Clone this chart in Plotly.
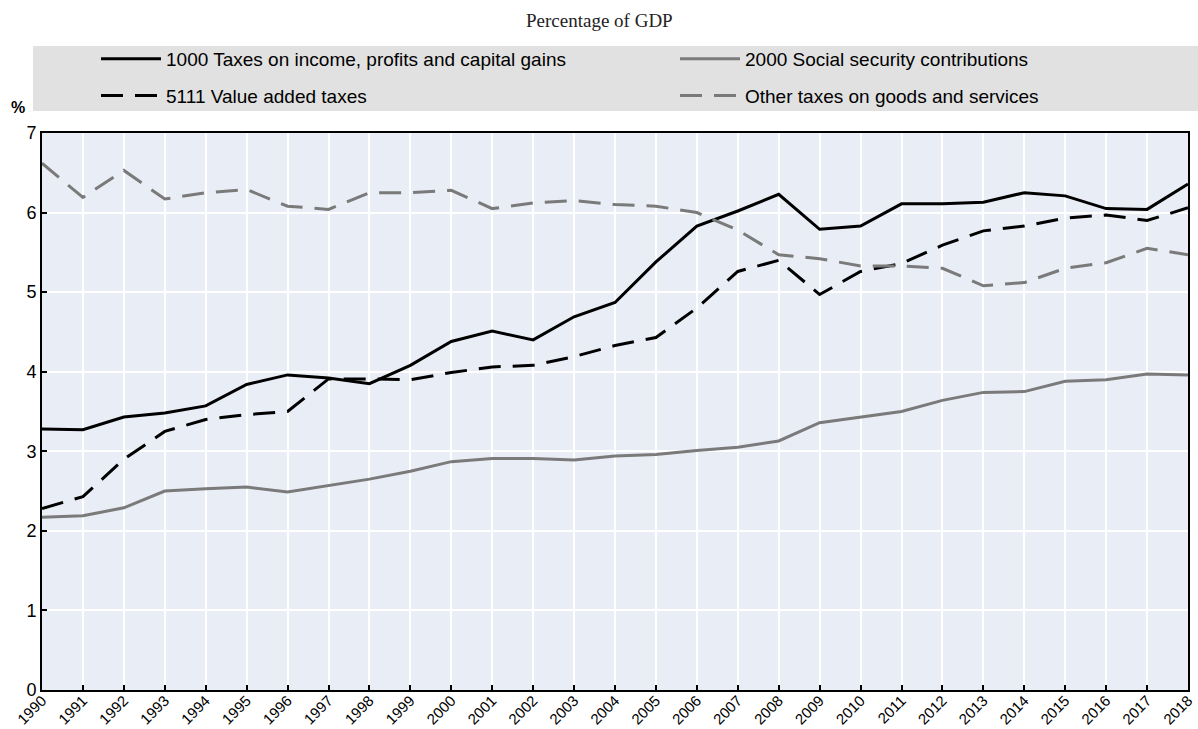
import plotly.graph_objects as go

years = list(range(1990, 2019))

income_taxes = [3.28, 3.27, 3.43, 3.48, 3.57, 3.84, 3.96, 3.92, 3.85, 4.08,
                4.38, 4.51, 4.40, 4.69, 4.87, 5.38, 5.83, 6.02, 6.23, 5.79,
                5.83, 6.11, 6.11, 6.13, 6.25, 6.21, 6.05, 6.04, 6.36]
social_security = [2.17, 2.19, 2.29, 2.50, 2.53, 2.55, 2.49, 2.57, 2.65, 2.75,
                   2.87, 2.91, 2.91, 2.89, 2.94, 2.96, 3.01, 3.05, 3.13, 3.36,
                   3.43, 3.50, 3.64, 3.74, 3.75, 3.88, 3.90, 3.97, 3.96]
vat = [2.28, 2.43, 2.90, 3.25, 3.40, 3.46, 3.50, 3.91, 3.91, 3.90,
       3.99, 4.06, 4.08, 4.19, 4.33, 4.43, 4.80, 5.26, 5.40, 4.97,
       5.26, 5.36, 5.59, 5.77, 5.83, 5.93, 5.97, 5.90, 6.06]
other_goods = [6.62, 6.19, 6.53, 6.17, 6.25, 6.29, 6.08, 6.04, 6.25, 6.25,
               6.28, 6.05, 6.12, 6.15, 6.10, 6.08, 6.00, 5.78, 5.47, 5.42,
               5.33, 5.33, 5.30, 5.08, 5.12, 5.30, 5.37, 5.55, 5.47]

names = ["1000 Taxes on income, profits and capital gains",
         "2000 Social security contributions",
         "5111 Value added taxes",
         "Other taxes on goods and services"]

FONT = "Liberation Sans Narrow, Arial Narrow, Liberation Sans, Arial, sans-serif"
BLACK = "#000000"
GREY = "#7a7a7a"
DASH = "22px,12px"

W, H = 1198, 729
ML, MR, MT, MB = 42, 10, 133, 39
PW = W - ML - MR
PH = H - MT - MB

def px_x(p):
    return (p - ML) / PW

def px_y(p):
    return (H - MB - p) / PH

fig = go.Figure()
fig.add_trace(go.Scatter(x=years, y=income_taxes, name=names[0], mode="lines",
                         line=dict(color=BLACK, width=3), legend="legend", legendgroup="a"))
fig.add_trace(go.Scatter(x=years, y=vat, name=names[2], mode="lines",
                         line=dict(color=BLACK, width=3, dash=DASH), legend="legend", legendgroup="b"))
fig.add_trace(go.Scatter(x=years, y=social_security, name=names[1], mode="lines",
                         line=dict(color=GREY, width=3), legend="legend2", legendgroup="c"))
fig.add_trace(go.Scatter(x=years, y=other_goods, name=names[3], mode="lines",
                         line=dict(color=GREY, width=3, dash=DASH), legend="legend2", legendgroup="d"))

legend_common = dict(orientation="v", yanchor="top", xanchor="left",
                     bgcolor="rgba(0,0,0,0)", font=dict(family=FONT, size=19, color="#000"),
                     itemwidth=60, tracegroupgap=9, traceorder="grouped")

fig.update_layout(
    width=W, height=H,
    margin=dict(l=ML, r=MR, t=MT, b=MB, autoexpand=False),
    paper_bgcolor="white",
    plot_bgcolor="#e9edf6",
    showlegend=True,
    legend=dict(x=px_x(96), y=px_y(40), **legend_common),
    legend2=dict(x=px_x(675), y=px_y(40), **legend_common),
    font=dict(family=FONT, size=17, color="#000"),
    xaxis=dict(range=[1990, 2018], tickmode="array", tickvals=years,
               ticktext=[str(y) for y in years], tickangle=-45,
               showgrid=True, gridcolor="white", gridwidth=2,
               showline=True, linecolor="black", linewidth=2, mirror=True,
               ticks="inside", ticklen=5, tickcolor="black", tickwidth=2,
               ticklabelstandoff=-6,
               tickfont=dict(family=FONT, size=15), automargin=False, zeroline=False),
    yaxis=dict(range=[0, 7], tickmode="array", tickvals=[0, 1, 2, 3, 4, 5, 6, 7],
               showgrid=True, gridcolor="white", gridwidth=2,
               showline=True, linecolor="black", linewidth=2, mirror=True,
               ticks="inside", ticklen=5, tickcolor="black", tickwidth=2,
               tickfont=dict(family=FONT, size=18), automargin=False, zeroline=False),
    shapes=[dict(type="rect", xref="paper", yref="paper",
                 x0=px_x(33), x1=px_x(1198), y0=px_y(111), y1=px_y(46),
                 fillcolor="#e1e1e1", line=dict(width=0), layer="below")],
    annotations=[
        dict(text="Percentage of GDP", xref="paper", yref="paper",
             x=px_x(599), y=px_y(21), xanchor="center", yanchor="middle",
             showarrow=False, font=dict(family="Liberation Serif, DejaVu Serif, serif", size=19, color="#222")),
        dict(text="<b>%</b>", xref="paper", yref="paper",
             x=px_x(18), y=px_y(108), xanchor="center", yanchor="middle",
             showarrow=False, font=dict(family=FONT, size=16, color="#000")),
    ],
)

fig.write_html("out.html", config={"displayModeBar": False},
               post_script="document.body.style.margin='0';document.body.style.overflow='hidden';")
